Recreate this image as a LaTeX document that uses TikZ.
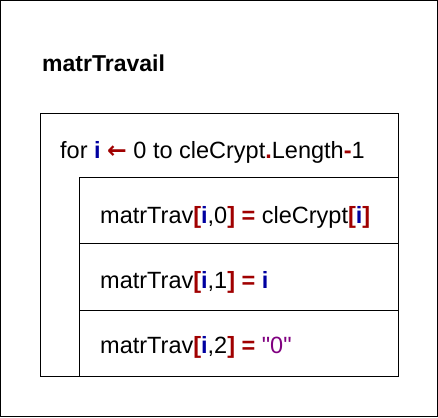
\documentclass[tikz,border=0pt]{standalone}
\usepackage{fontspec}
\setmainfont{Liberation Sans}
\newfontfamily\strfont{Liberation Sans}[Ligatures=TeXOff]
\newfontfamily\arrowfont{DejaVu Sans}
\usepackage{xcolor}
\usepackage{tikz}
\usetikzlibrary{positioning}

\definecolor{kwred}{RGB}{160,0,0}
\definecolor{varblue}{RGB}{0,0,160}
\definecolor{strpurple}{RGB}{128,0,128}
\newcommand{\vi}{\textcolor{varblue}{\textbf{i}}}
\newcommand{\op}[1]{\textcolor{kwred}{\textbf{#1}}}

\begin{document}
\begin{tikzpicture}[x=1pt, y=-1pt,
  frame/.style={draw, line width=1pt, anchor=north west, inner sep=0pt, outer sep=0pt},
  cell/.style={draw, line width=1pt, anchor=north west, inner sep=0pt, outer sep=0pt, minimum width=319pt},
  code/.style={anchor=base west, inner sep=0pt, font=\fontsize{23.5}{28}\selectfont},
]
\def\rowh{66.5pt}   % hauteur d'une ligne du corps

\useasboundingbox (0,0) rectangle (438,417);

\node[frame, minimum width=437pt, minimum height=416pt] (page) at (0.5,0.5) {};
\node[anchor=base west, inner sep=0pt, font=\fontsize{23}{28}\selectfont\bfseries] (title) at (42,72) {matrTravail};

\node[frame, minimum width=358pt, minimum height=263pt] (loop) at (40,113) {};
\node[code] (head) at (60,158) {for \vi{} \op{\arrowfont ←} 0 to cleCrypt\op{.}Length\op{-}1};

\node[cell, minimum height=\rowh] (row0) at (79,177) {};
\node[cell, minimum height=\rowh, below=0pt of row0.south west, anchor=north west] (row1) {};
\node[cell, minimum height=\rowh, below=0pt of row1.south west, anchor=north west] (row2) {};

\node[code] (set0) at (100,223) {matrTrav\op{[}\vi,0\op{]} \op{=} cleCrypt\op{[}\vi\op{]}};
\node[code] (set1) at (100,288) {matrTrav\op{[}\vi,1\op{]} \op{=} \vi};
\node[code] (set2) at (100,353) {matrTrav\op{[}\vi,2\op{]} \op{=} \textcolor{strpurple}{\strfont "0"}};
\end{tikzpicture}
\end{document}
